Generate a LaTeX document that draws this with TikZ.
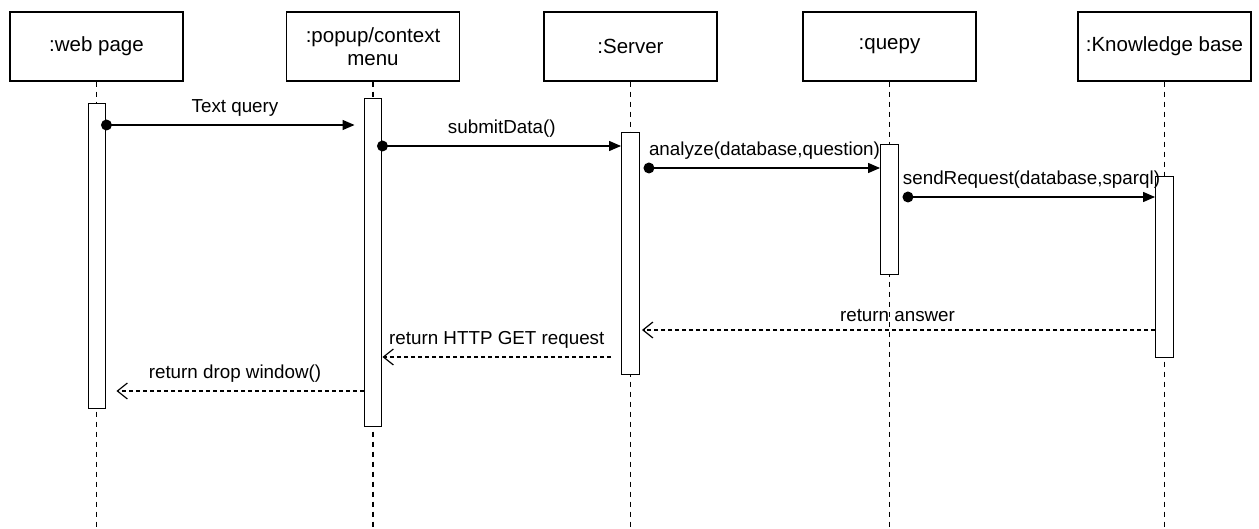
\documentclass[tikz,border=0pt]{standalone}
\usepackage{fontspec}
\setmainfont{Liberation Sans}
\usetikzlibrary{arrows.meta}

\begin{document}
\begin{tikzpicture}[
    x=1pt, y=-1pt,
    >=Stealth,
    head/.style={draw, line width=1.4pt, minimum width=173pt, minimum height=69pt,
        align=center, font=\fontsize{20.5}{23}\selectfont},
    lifeline/.style={line width=1.2pt, dash pattern=on 5pt off 5pt},
    bar/.style={draw, fill=white, line width=1.4pt, minimum width=17.5pt,
        anchor=north, inner sep=0pt},
    call/.style={line width=1.3pt, -{Triangle[length=12pt, width=10pt]}},
    reply/.style={line width=1.2pt, dash pattern=on 4pt off 3pt,
        -{Straight Barb[length=10pt, width=16pt]}},
    msg/.style={midway, above=6pt, font=\fontsize{18.8}{21}\selectfont, inner sep=2pt},
]

\useasboundingbox (0,0) rectangle (1259,529);

% =============================================================================
% Participants
% =============================================================================
\node[head] (web)    at (96.5,46.5)   {:web page};
\node[head] (popup)  at (373,46.5)    {:popup/context\\menu};
\node[head] (server) at (630.5,46.5)  {:Server};
\node[head] (quepy)  at (889.5,46.5)  {:quepy};
\node[head] (kb)     at (1164.5,46.5) {:Knowledge base};

% --- Lifelines ---
\foreach \n in {web,popup,server,quepy,kb}
    \draw[lifeline] (\n.south) -- (\n.south |- 0,529);

% --- Activation bars ---
\node[bar, minimum height=305pt] (webbar)    at (97,103)     {};
\node[bar, minimum height=328pt] (popupbar)  at (373,98)     {};
\node[bar, minimum height=242pt] (serverbar) at (630.5,132)  {};
\node[bar, minimum height=130pt] (quepybar)  at (889.5,144)  {};
\node[bar, minimum height=181pt] (kbbar)     at (1164.5,176) {};

% =============================================================================
% Calls
% =============================================================================
\coordinate (c1) at (webbar.east |- 0,125);
\coordinate (c2) at (popupbar.east |- 0,146);
\coordinate (c3) at ([xshift=9pt]serverbar.east |- 0,168);
\coordinate (c4) at ([xshift=9pt]quepybar.east |- 0,197);

\draw[call, shorten >=9pt] (c1) -- node[msg] {Text query} (popupbar.west |- c1);
\fill (c1) circle (5.5pt);

\draw[call] (c2) -- node[msg] {submitData()} (serverbar.west |- c2);
\fill (c2) circle (5.5pt);

\draw[call] (c3) -- node[msg] {analyze(database,question)} (quepybar.west |- c3);
\fill (c3) circle (5.5pt);

\draw[call] (c4) -- node[msg] {sendRequest(database,sparql)} (kbbar.west |- c4);
\fill (c4) circle (5.5pt);

% =============================================================================
% Replies
% =============================================================================
\coordinate (r1) at (kbbar.west |- 0,330);
\coordinate (r2) at ([xshift=-10pt]serverbar.west |- 0,357);
\coordinate (r3) at (popupbar.west |- 0,391);

\draw[reply, shorten >=2pt] (r1) -- node[msg] {return answer} (serverbar.east |- r1);
\draw[reply] (r2) -- node[msg] {return HTTP GET request} (popupbar.east |- r2);
\draw[reply, shorten >=10pt] (r3) -- node[msg] {return drop window()} (webbar.east |- r3);

\end{tikzpicture}
\end{document}
